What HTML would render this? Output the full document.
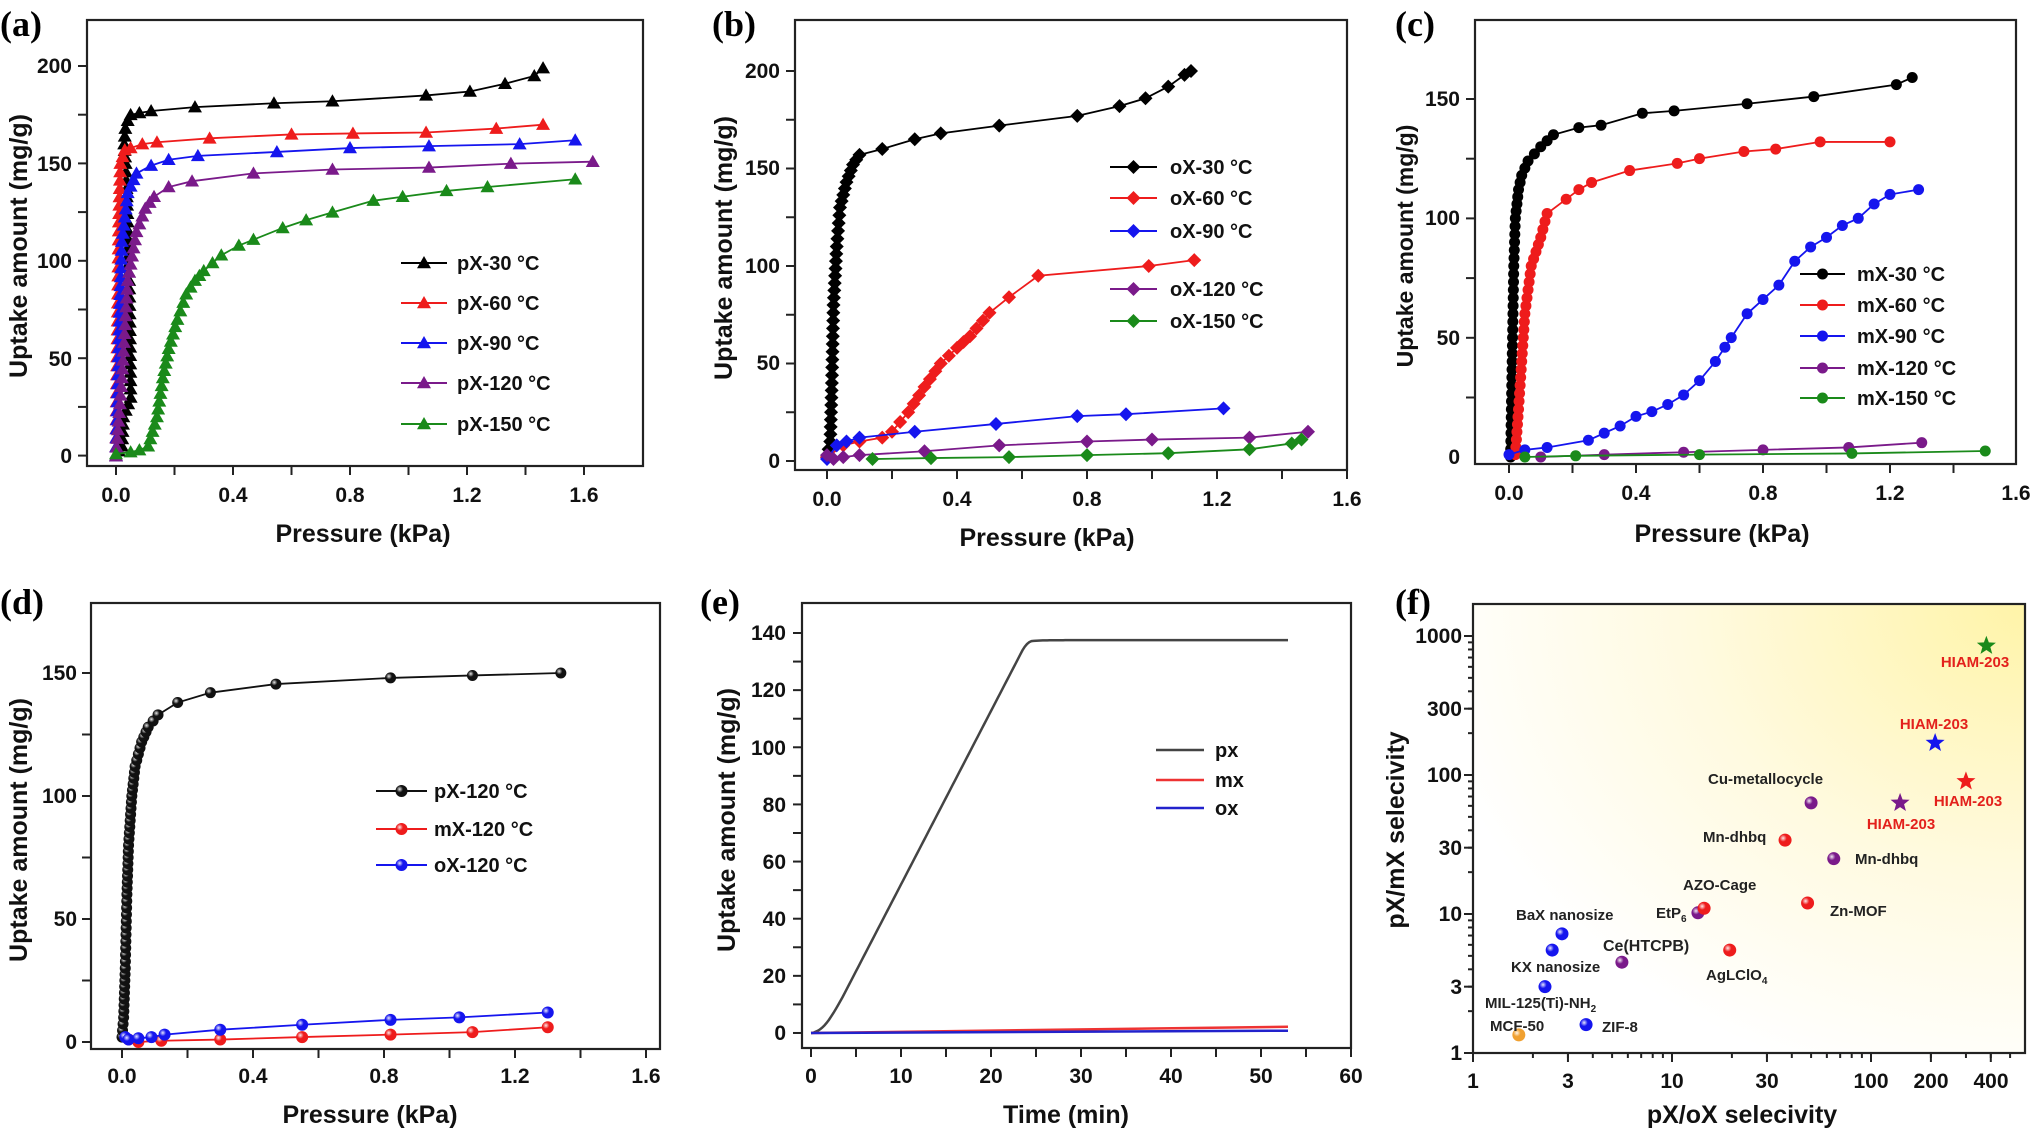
<!DOCTYPE html>
<html><head><meta charset="utf-8"><style>
body{margin:0;background:#fff;}
svg{display:block;font-family:"Liberation Sans",Arial,sans-serif;font-weight:bold;}
.tk{font-size:21px;fill:#111;}
.ax{font-size:25px;fill:#111;}
.lg{font-size:20px;fill:#111;}
.let{font-family:"Liberation Serif",serif;font-size:36px;font-weight:bold;fill:#000;}
.fl{font-size:15px;fill:#222;}
.hl{font-size:15px;fill:#e3211c;}
</style></head><body>
<svg id="s" width="2037" height="1131" viewBox="0 0 2037 1131" xmlns="http://www.w3.org/2000/svg">
<defs>
<radialGradient id="yg" cx="1" cy="0" r="1.1">
<stop offset="0" stop-color="#fff4a8"/><stop offset="0.55" stop-color="#fffae0"/><stop offset="1" stop-color="#ffffff"/>
</radialGradient>
<radialGradient id="ball" cx="0.35" cy="0.35" r="0.7"><stop offset="0" stop-color="#fff" stop-opacity="0.9"/><stop offset="0.4" stop-color="#fff" stop-opacity="0"/></radialGradient>
</defs>
<rect x="1473" y="604" width="552" height="449" fill="url(#yg)"/>
<g id="g"></g>

<text class="let" x="0" y="36">(a)</text>
<text class="let" x="712" y="36">(b)</text>
<text class="let" x="1395" y="36">(c)</text>
<text class="let" x="0" y="614">(d)</text>
<text class="let" x="700" y="614">(e)</text>
<text class="let" x="1395" y="614">(f)</text>

<g class="tk" text-anchor="middle">
<text x="116" y="502">0.0</text><text x="233" y="502">0.4</text><text x="350" y="502">0.8</text><text x="467" y="502">1.2</text><text x="584" y="502">1.6</text>
<text x="827" y="506">0.0</text><text x="957" y="506">0.4</text><text x="1087" y="506">0.8</text><text x="1217" y="506">1.2</text><text x="1347" y="506">1.6</text>
<text x="1509" y="500">0.0</text><text x="1636" y="500">0.4</text><text x="1763" y="500">0.8</text><text x="1890" y="500">1.2</text><text x="2016" y="500">1.6</text>
<text x="122" y="1083">0.0</text><text x="253" y="1083">0.4</text><text x="384" y="1083">0.8</text><text x="515" y="1083">1.2</text><text x="646" y="1083">1.6</text>
<text x="811" y="1083">0</text><text x="901" y="1083">10</text><text x="991" y="1083">20</text><text x="1081" y="1083">30</text><text x="1171" y="1083">40</text><text x="1261" y="1083">50</text><text x="1351" y="1083">60</text>
<text x="1473" y="1088">1</text><text x="1568" y="1088">3</text><text x="1672" y="1088">10</text><text x="1767" y="1088">30</text><text x="1871" y="1088">100</text><text x="1931" y="1088">200</text><text x="1991" y="1088">400</text>
</g>
<g class="tk" text-anchor="end">
<text x="72" y="463">0</text><text x="72" y="366">50</text><text x="72" y="268">100</text><text x="72" y="171">150</text><text x="72" y="73">200</text>
<text x="780" y="468">0</text><text x="780" y="370">50</text><text x="780" y="273">100</text><text x="780" y="175">150</text><text x="780" y="78">200</text>
<text x="1460" y="464">0</text><text x="1460" y="345">50</text><text x="1460" y="225">100</text><text x="1460" y="106">150</text>
<text x="77" y="1049">0</text><text x="77" y="926">50</text><text x="77" y="803">100</text><text x="77" y="680">150</text>
<text x="786" y="1040">0</text><text x="786" y="983">20</text><text x="786" y="926">40</text><text x="786" y="869">60</text><text x="786" y="812">80</text><text x="786" y="755">100</text><text x="786" y="697">120</text><text x="786" y="640">140</text>
<text x="1462" y="1060">1</text><text x="1462" y="994">3</text><text x="1462" y="921">10</text><text x="1462" y="855">30</text><text x="1462" y="782">100</text><text x="1462" y="716">300</text><text x="1462" y="643">1000</text>
</g>
<g class="ax" text-anchor="middle">
<text x="363" y="542">Pressure (kPa)</text>
<text x="1047" y="546">Pressure (kPa)</text>
<text x="1722" y="542">Pressure (kPa)</text>
<text x="370" y="1123">Pressure (kPa)</text>
<text x="1066" y="1123">Time (min)</text>
<text x="1742" y="1123">pX/oX selecivity</text>
<text transform="translate(27,246) rotate(-90)">Uptake amount (mg/g)</text>
<text transform="translate(732,248) rotate(-90)">Uptake amount (mg/g)</text>
<text transform="translate(1413,246) rotate(-90)" style="font-size:23px">Uptake amount (mg/g)</text>
<text transform="translate(27,830) rotate(-90)">Uptake amount (mg/g)</text>
<text transform="translate(735,820) rotate(-90)">Uptake amount (mg/g)</text>
<text transform="translate(1404,830) rotate(-90)">pX/mX selecivity</text>
</g>
<g class="lg">
<text x="457" y="270">pX-30 °C</text><text x="457" y="310">pX-60 °C</text><text x="457" y="350">pX-90 °C</text><text x="457" y="390">pX-120 °C</text><text x="457" y="431">pX-150 °C</text>
<text x="1170" y="174">oX-30 °C</text><text x="1170" y="205">oX-60 °C</text><text x="1170" y="238">oX-90 °C</text><text x="1170" y="296">oX-120 °C</text><text x="1170" y="328">oX-150 °C</text>
<text x="1857" y="281">mX-30 °C</text><text x="1857" y="312">mX-60 °C</text><text x="1857" y="343">mX-90 °C</text><text x="1857" y="375">mX-120 °C</text><text x="1857" y="405">mX-150 °C</text>
<text x="434" y="798">pX-120 °C</text><text x="434" y="836">mX-120 °C</text><text x="434" y="872">oX-120 °C</text>
<text x="1215" y="757">px</text><text x="1215" y="787">mx</text><text x="1215" y="815">ox</text>
</g>
<g class="fl">
<text x="1708" y="784">Cu-metallocycle</text>
<text x="1703" y="842">Mn-dhbq</text>
<text x="1855" y="864">Mn-dhbq</text>
<text x="1683" y="890">AZO-Cage</text>
<text x="1656" y="918">EtP<tspan font-size="10" dy="4">6</tspan></text>
<text x="1830" y="916">Zn-MOF</text>
<text x="1516" y="920">BaX nanosize</text>
<text x="1603" y="951" font-size="16">Ce(HTCPB)</text>
<text x="1511" y="972">KX nanosize</text>
<text x="1706" y="980">AgLClO<tspan font-size="10" dy="4">4</tspan></text>
<text x="1485" y="1008">MIL-125(Ti)-NH<tspan font-size="10" dy="4">2</tspan></text>
<text x="1490" y="1031">MCF-50</text>
<text x="1602" y="1032">ZIF-8</text>
</g>
<g class="hl" text-anchor="middle">
<text x="1975" y="667">HIAM-203</text>
<text x="1934" y="729">HIAM-203</text>
<text x="1968" y="806">HIAM-203</text>
<text x="1901" y="829">HIAM-203</text>
</g>
</svg>
<script>
const NS="http://www.w3.org/2000/svg",G=document.getElementById("g");
function el(t,a){const e=document.createElementNS(NS,t);for(const k in a)e.setAttribute(k,a[k]);G.appendChild(e);return e;}
function frame(x0,y0,x1,y1){el("rect",{x:x0,y:y0,width:x1-x0,height:y1-y0,fill:"none",stroke:"#222","stroke-width":2.2});}
function xt(pos,y,len){pos.forEach(p=>el("line",{x1:p,x2:p,y1:y,y2:y+len,stroke:"#222","stroke-width":2}));}
function yt(pos,x,len){pos.forEach(p=>el("line",{x1:x,x2:x-len,y1:p,y2:p,stroke:"#222","stroke-width":2}));}
function rng(a,b,s){const r=[];for(let v=a;v<=b+1e-9;v+=s)r.push(v);return r;}
function marker(type,x,y,c,s){
 if(type=="t")el("polygon",{points:`${x},${y-s} ${x-s},${y+s*0.75} ${x+s},${y+s*0.75}`,fill:c});
 else if(type=="d")el("polygon",{points:`${x},${y-s} ${x+s},${y} ${x},${y+s} ${x-s},${y}`,fill:c});
 else if(type=="c")el("circle",{cx:x,cy:y,r:s,fill:c});
 else if(type=="o"){el("circle",{cx:x,cy:y,r:s,fill:"#fff",stroke:c,"stroke-width":2});}
 else if(type=="b"){el("circle",{cx:x,cy:y,r:s,fill:c});el("circle",{cx:x,cy:y,r:s,fill:"url(#ball)"});}
}
function series(d,X,Y,c,type,s,dense){
 const pts=d.map(p=>[X(p[0]),Y(p[1])]);
 el("polyline",{points:pts.map(p=>p.join(",")).join(" "),fill:"none",stroke:c,"stroke-width":1.8});
 const ms=[];
 for(let i=0;i<pts.length;i++){ms.push(pts[i]);
  if(dense&&i<pts.length-1){const dx=pts[i+1][0]-pts[i][0],dy=pts[i+1][1]-pts[i][1];const L=Math.abs(dy);
   if(L>dense&&Math.abs(dx)<Math.abs(dy)*1.2){const n=Math.floor(L/dense);for(let k=1;k<=n;k++)ms.push([pts[i][0]+dx*k/(n+1),pts[i][1]+dy*k/(n+1)]);}}}
 ms.forEach(p=>marker(type,p[0],p[1],c,s));
}
function leg(x0,x1,y,c,type,s){el("line",{x1:x0,x2:x1,y1:y,y2:y,stroke:c,"stroke-width":2});marker(type,(x0+x1)/2,y,c,s);}
const K="#000",R="#ee1c1c",B="#1515ee",P="#7a1a8a",Gr="#1a8a1a";

{const X=p=>116+292.5*p,Y=u=>456-1.949*u;
frame(87,20,643,466);xt(rng(116,584,58.5),466,9);yt(rng(66,456,48.7),87,9);
series([[0,0],[0.02,5],[0.025,20],[0.05,30],[0.048,60],[0.045,90],[0.04,120],[0.033,150],[0.028,160],[0.032,168],[0.04,172],[0.05,175],[0.08,176],[0.12,177],[0.27,179],[0.54,181],[0.74,182],[1.06,185],[1.21,187],[1.33,191],[1.43,195],[1.46,199]],X,Y,K,"t",7,9);
series([[0,0],[0.005,60],[0.01,120],[0.015,150],[0.03,157],[0.05,158],[0.09,160],[0.14,161],[0.32,163],[0.6,165],[0.81,165.5],[1.06,166],[1.3,168],[1.46,170]],X,Y,R,"t",7,9);
series([[0,0],[0.01,60],[0.02,110],[0.04,135],[0.07,145],[0.12,149],[0.18,152],[0.28,154],[0.55,156],[0.8,158],[1.07,159],[1.38,160],[1.57,162]],X,Y,B,"t",7,9);
series([[0,0],[0.02,40],[0.04,90],[0.07,115],[0.1,127],[0.13,133],[0.18,138],[0.26,141],[0.47,145],[0.74,147],[1.07,148],[1.35,150],[1.63,151]],X,Y,P,"t",7,9);
series([[0,1],[0.05,2],[0.08,3],[0.11,5],[0.14,20],[0.16,40],[0.18,55],[0.21,70],[0.24,83],[0.27,90],[0.3,95],[0.36,103],[0.42,108],[0.47,111],[0.57,117],[0.65,121],[0.74,125],[0.88,131],[0.98,133],[1.13,136],[1.27,138],[1.57,142]],X,Y,Gr,"t",7,9);
[[263,K],[303,R],[343,B],[383,P],[424,Gr]].forEach(a=>leg(401,447,a[0],a[1],"t",7));}
{const X=p=>827+325*p,Y=u=>461-1.95*u;
frame(795,20,1347,470);xt(rng(827,1347,65),470,9);yt(rng(71,461,48.75),795,9);
series([[0,2],[0.01,10],[0.015,40],[0.02,80],[0.03,110],[0.04,130],[0.06,143],[0.08,152],[0.1,157],[0.17,160],[0.27,165],[0.35,168],[0.53,172],[0.77,177],[0.9,182],[0.98,186],[1.05,192],[1.1,198],[1.12,200]],X,Y,K,"d",7,8);
series([[0,2],[0.05,8],[0.1,10],[0.17,12],[0.2,15],[0.25,25],[0.3,38],[0.35,50],[0.4,58],[0.44,64],[0.5,76],[0.56,84],[0.65,95],[0.99,100],[1.13,103]],X,Y,R,"d",7,10);
series([[0,1],[0.03,8],[0.06,10],[0.1,12],[0.27,15],[0.52,19],[0.77,23],[0.92,24],[1.22,27]],X,Y,B,"d",7);
series([[0,3],[0.02,1],[0.05,2],[0.1,3],[0.3,5],[0.53,8],[0.8,10],[1.0,11],[1.3,12],[1.48,15]],X,Y,P,"d",7);
series([[0.14,1],[0.32,1.5],[0.56,2],[0.8,3],[1.05,4],[1.3,6],[1.43,9],[1.46,11]],X,Y,Gr,"d",7);
[[167,K],[198,R],[231,B],[289,P],[321,Gr]].forEach(a=>leg(1110,1157,a[0],a[1],"d",7));}
{const X=p=>1509+317.5*p,Y=u=>457-2.387*u;
frame(1475,20,2016,464);xt(rng(1509,2016,63.5),464,9);yt(rng(99,457,59.7),1475,9);
series([[0.005,0],[0.01,40],[0.015,80],[0.02,100],[0.03,112],[0.04,118],[0.06,124],[0.1,130],[0.14,135],[0.22,138],[0.29,139],[0.42,144],[0.52,145],[0.75,148],[0.96,151],[1.22,156],[1.27,159]],X,Y,K,"c",5.5,8);
series([[0.02,1],[0.03,20],[0.04,40],[0.05,60],[0.07,80],[0.1,92],[0.12,102],[0.18,108],[0.22,112],[0.26,115],[0.38,120],[0.53,123],[0.6,125],[0.74,128],[0.84,129],[0.98,132],[1.2,132]],X,Y,R,"c",5.5,8);
series([[0,1],[0.05,3],[0.12,4],[0.25,7],[0.3,10],[0.35,13],[0.4,17],[0.45,19],[0.5,22],[0.55,26],[0.6,32],[0.65,40],[0.68,46],[0.7,50],[0.75,60],[0.8,66],[0.85,72],[0.9,82],[0.95,88],[1.0,92],[1.05,97],[1.1,100],[1.15,106],[1.2,110],[1.29,112]],X,Y,B,"c",5.5);
series([[0.1,0],[0.3,1],[0.55,2],[0.8,3],[1.07,4],[1.3,6]],X,Y,P,"c",5.5);
series([[0.05,0],[0.21,0.5],[0.6,1],[1.08,1.5],[1.5,2.5]],X,Y,Gr,"c",5.5);
[[274,K],[305,R],[336,B],[368,P],[398,Gr]].forEach(a=>leg(1800,1845,a[0],a[1],"c",5.5));}
{const X=p=>122+327.5*p,Y=u=>1042-2.46*u;
frame(91,603,660,1049);xt(rng(122,646,65.5),1049,9);yt(rng(673,1042,61.5),91,9);
series([[0,2],[0.005,10],[0.01,30],[0.015,60],[0.02,80],[0.03,100],[0.04,112],[0.06,122],[0.08,128],[0.11,133],[0.17,138],[0.27,142],[0.47,145.5],[0.82,148],[1.07,149],[1.34,150]],X,Y,"#111","b",5.5,7);
series([[0.02,1],[0.05,0],[0.12,0.5],[0.3,1],[0.55,2],[0.82,3],[1.07,4],[1.3,6]],X,Y,R,"b",6);
series([[0.01,2],[0.02,1],[0.05,1.5],[0.09,2],[0.13,3],[0.3,5],[0.55,7],[0.82,9],[1.03,10],[1.3,12]],X,Y,B,"b",6);
leg(376,427,791,"#111","b",6);leg(376,427,829,R,"b",6);leg(376,427,865,B,"b",6);}
{const X=t=>811+9*t,Y=u=>1033-2.857*u;
frame(802,603,1351,1048);xt(rng(811,1351,45),1048,9);yt(rng(633,1033,28.57),802,9);
let p=[];for(let t=0;t<=53;t+=0.25){let u;if(t<24){const s=t/24;u=137*(s<0.12?0.5*s*s/0.12/0.88:(s-0.06)/0.94);u=Math.min(u,137);}else u=137+0.5*(1-Math.exp(-(t-24)));p.push([t,u]);}
const sm=p.map(q=>q[1]);for(let i=2;i<sm.length-2;i++)p[i][1]=(sm[i-2]+sm[i-1]+sm[i]+sm[i+1]+sm[i+2])/5;
el("polyline",{points:p.map(q=>X(q[0])+","+Y(q[1])).join(" "),fill:"none",stroke:"#444","stroke-width":2.5});
el("line",{x1:X(0),y1:Y(0),x2:X(53),y2:Y(2.2),stroke:"#e33","stroke-width":2.5});
el("line",{x1:X(0),y1:Y(0),x2:X(53),y2:Y(0.8),stroke:"#22c","stroke-width":2.5});
el("line",{x1:1156,x2:1204,y1:750,y2:750,stroke:"#444","stroke-width":2.5});
el("line",{x1:1156,x2:1204,y1:780,y2:780,stroke:"#e33","stroke-width":2.5});
el("line",{x1:1156,x2:1204,y1:808,y2:808,stroke:"#22c","stroke-width":2.5});}
{const X=v=>1473+199*Math.log10(v),Y=v=>1053-139*Math.log10(v);
frame(1473,604,2025,1053);
const mx=[],my=[];[1,10,100].forEach(d=>{for(let k=2;k<=9;k++){if(d*k<=500)mx.push(X(d*k));if(d*k<1500)my.push(Y(d*k));}});
xt([1,3,10,30,100,200,400].map(X),1053,9);xt(mx,1053,5);yt([1,3,10,30,100,300,1000].map(Y),1473,9);yt(my,1473,5);
[[1.7,1.35,"#f0a030"],[3.7,1.6,B],[2.3,3,B],[2.5,5.5,B],[2.8,7.2,B],[5.6,4.5,P],[19.5,5.5,R],[13.5,10.2,P],[14.5,11,R],[48,12,R],[37,34,R],[65,25,P],[50,63,P]].forEach(a=>marker("b",X(a[0]),Y(a[1]),a[2],6.5));
function star(x,y,r,c){let s="";for(let i=0;i<10;i++){const a=-Math.PI/2+i*Math.PI/5,rr=i%2?r*0.42:r;s+=(x+rr*Math.cos(a))+","+(y+rr*Math.sin(a))+" ";}el("polygon",{points:s,fill:c});}
star(X(140),Y(63),10,P);star(X(300),Y(90),10,R);star(X(210),Y(170),10,B);star(X(380),Y(850),10,Gr);}
</script>
</body></html>
